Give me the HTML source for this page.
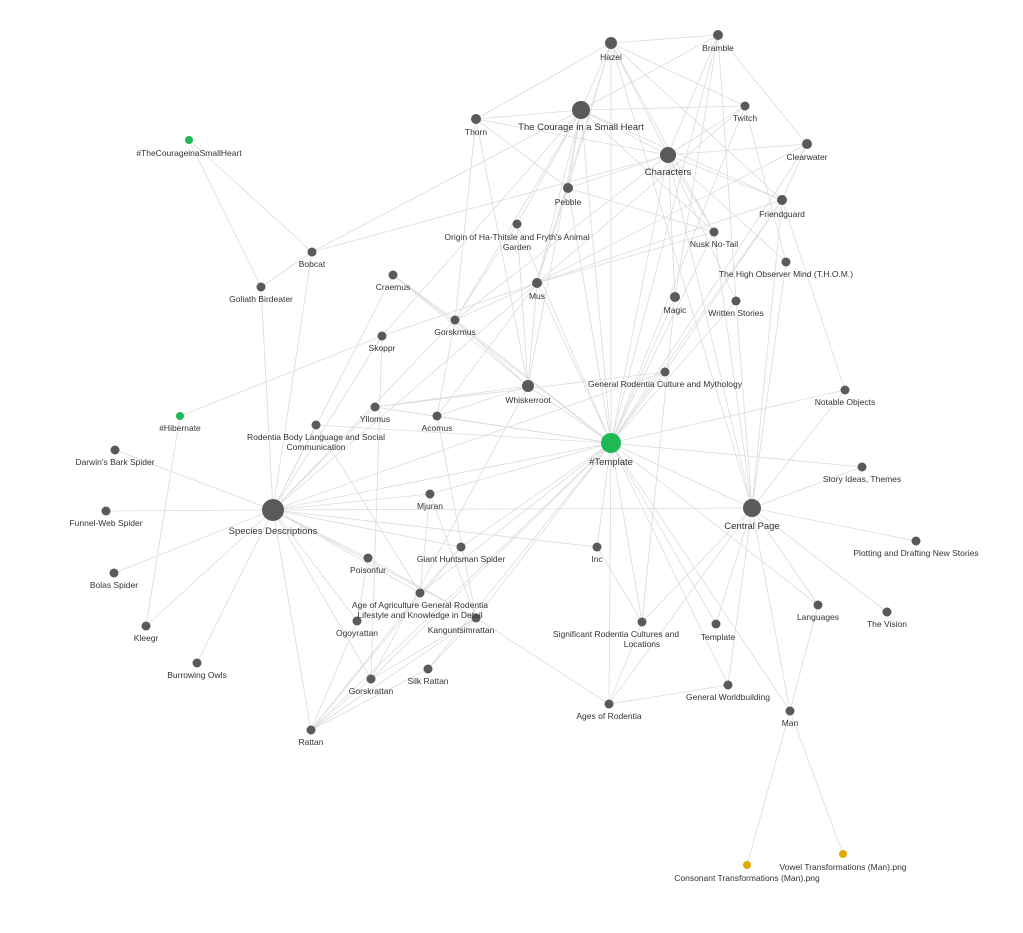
<!DOCTYPE html>
<html><head><meta charset="utf-8"><style>
html,body{margin:0;padding:0;background:#fff;}
svg{display:block}
text{font-family:"Liberation Sans",sans-serif;font-size:8.5px;fill:#333;text-anchor:middle}
</style></head><body>
<svg id="g" width="1023" height="933" viewBox="0 0 1023 933" xmlns="http://www.w3.org/2000/svg">
<g id="edges" stroke="#dcdcdc" stroke-width="0.8"></g>
<g id="nodes" fill="#5a5a5a">
<circle cx="611" cy="43" r="6"/><circle cx="718" cy="35" r="5"/><circle cx="476" cy="119" r="5"/>
<circle cx="581" cy="110" r="9"/><circle cx="745" cy="106" r="4.5"/><circle cx="807" cy="144" r="5"/>
<circle cx="668" cy="155" r="8"/><circle cx="568" cy="188" r="5"/><circle cx="782" cy="200" r="5"/>
<circle cx="517" cy="224" r="4.5"/><circle cx="714" cy="232" r="4.5"/><circle cx="786" cy="262" r="4.5"/>
<circle cx="537" cy="283" r="5"/><circle cx="675" cy="297" r="5"/><circle cx="736" cy="301" r="4.5"/>
<circle cx="455" cy="320" r="4.5"/><circle cx="312" cy="252" r="4.5"/><circle cx="261" cy="287" r="4.5"/>
<circle cx="393" cy="275" r="4.5"/><circle cx="382" cy="336" r="4.5"/>
<circle cx="528" cy="386" r="6"/><circle cx="665" cy="372" r="4.5"/><circle cx="845" cy="390" r="4.5"/>
<circle cx="375" cy="407" r="4.5"/><circle cx="437" cy="416" r="4.5"/><circle cx="316" cy="425" r="4.5"/>
<circle cx="862" cy="467" r="4.5"/><circle cx="115" cy="450" r="4.5"/><circle cx="106" cy="511" r="4.5"/>
<circle cx="273" cy="510" r="11"/><circle cx="430" cy="494" r="4.5"/><circle cx="752" cy="508" r="9"/>
<circle cx="916" cy="541" r="4.5"/><circle cx="597" cy="547" r="4.5"/><circle cx="461" cy="547" r="4.5"/>
<circle cx="368" cy="558" r="4.5"/><circle cx="420" cy="593" r="4.5"/><circle cx="114" cy="573" r="4.5"/>
<circle cx="818" cy="605" r="4.5"/><circle cx="887" cy="612" r="4.5"/><circle cx="357" cy="621" r="4.5"/>
<circle cx="476" cy="618" r="4.5"/><circle cx="146" cy="626" r="4.5"/><circle cx="642" cy="622" r="4.5"/>
<circle cx="716" cy="624" r="4.5"/><circle cx="197" cy="663" r="4.5"/><circle cx="371" cy="679" r="4.5"/>
<circle cx="428" cy="669" r="4.5"/><circle cx="728" cy="685" r="4.5"/><circle cx="790" cy="711" r="4.5"/>
<circle cx="609" cy="704" r="4.5"/><circle cx="311" cy="730" r="4.5"/>
<circle cx="189" cy="140" r="4" fill="#1db954"/><circle cx="180" cy="416" r="4" fill="#1db954"/>
<circle cx="611" cy="443" r="10" fill="#1db954"/>
<circle cx="747" cy="865" r="4" fill="#e0ac00"/><circle cx="843" cy="854" r="4" fill="#e0ac00"/>
</g>
<g>
<text x="611" y="60">Hazel</text><text x="718" y="51">Bramble</text><text x="476" y="135">Thorn</text>
<text x="581" y="130" style="font-size:9.5px">The Courage in a Small Heart</text>
<text x="745" y="121">Twitch</text><text x="807" y="160">Clearwater</text>
<text x="668" y="175" style="font-size:9.5px">Characters</text><text x="568" y="205">Pebble</text>
<text x="782" y="217">Friendguard</text>
<text x="517" y="240">Origin of Ha-Thitsle and Fryth's Animal</text><text x="517" y="250">Garden</text>
<text x="714" y="247">Nusk No-Tail</text><text x="786" y="277">The High Observer Mind (T.H.O.M.)</text>
<text x="537" y="299">Mus</text><text x="675" y="313">Magic</text><text x="736" y="316">Written Stories</text>
<text x="455" y="335">Gorskrmus</text><text x="312" y="267">Bobcat</text><text x="261" y="302">Goliath Birdeater</text>
<text x="393" y="290">Craemus</text><text x="382" y="351">Skoppr</text>
<text x="189" y="156">#TheCourageinaSmallHeart</text><text x="180" y="431">#Hibernate</text>
<text x="528" y="403">Whiskerroot</text><text x="665" y="387">General Rodentia Culture and Mythology</text>
<text x="845" y="405">Notable Objects</text><text x="375" y="422">Yllomus</text><text x="437" y="431">Acomus</text>
<text x="316" y="440">Rodentia Body Language and Social</text><text x="316" y="450">Communication</text>
<text x="611" y="465" style="font-size:9.5px">#Template</text>
<text x="862" y="482">Story Ideas, Themes</text><text x="115" y="465">Darwin's Bark Spider</text>
<text x="106" y="526">Funnel-Web Spider</text>
<text x="273" y="534" style="font-size:9.5px">Species Descriptions</text>
<text x="430" y="509">Mjuran</text>
<text x="752" y="529" style="font-size:9.5px">Central Page</text>
<text x="916" y="556">Plotting and Drafting New Stories</text><text x="597" y="562">Inc</text>
<text x="461" y="562">Giant Huntsman Spider</text><text x="368" y="573">Poisonfur</text>
<text x="420" y="608">Age of Agriculture General Rodentia</text><text x="420" y="618">Lifestyle and Knowledge in Detail</text>
<text x="114" y="588">Bolas Spider</text><text x="818" y="620">Languages</text><text x="887" y="627">The Vision</text>
<text x="357" y="636">Ogoyrattan</text><text x="461" y="633">Kanguntsimrattan</text><text x="146" y="641">Kleegr</text>
<text x="616" y="637">Significant Rodentia Cultures and</text><text x="642" y="647">Locations</text>
<text x="718" y="640">Template</text><text x="197" y="678">Burrowing Owls</text>
<text x="371" y="694">Gorskrattan</text><text x="428" y="684">Silk Rattan</text>
<text x="728" y="700">General Worldbuilding</text><text x="790" y="726">Man</text>
<text x="609" y="719">Ages of Rodentia</text><text x="311" y="745">Rattan</text>
<text x="747" y="881">Consonant Transformations (Man).png</text>
<text x="843" y="870">Vowel Transformations (Man).png</text>
</g>
</svg>
<script>
var P={Ha:[611,43],Br:[718,35],Th:[476,119],Co:[581,110],Tw:[745,106],Cl:[807,144],Ch:[668,155],Pe:[568,188],Fr:[782,200],Or:[517,224],Nu:[714,232],TH:[786,262],Mu:[537,283],Ma:[675,297],Wr:[736,301],Gm:[455,320],Bo:[312,252],Go:[261,287],Cr:[393,275],Sk:[382,336],TC:[189,140],Hi:[180,416],Wh:[528,386],GR:[665,372],No:[845,390],Yl:[375,407],Ac:[437,416],RB:[316,425],T:[611,443],St:[862,467],Da:[115,450],Fu:[106,511],S:[273,510],Mj:[430,494],C:[752,508],Pl:[916,541],In:[597,547],Gi:[461,547],Po:[368,558],AA:[420,593],Bl:[114,573],La:[818,605],Vi:[887,612],Og:[357,621],Ka:[476,618],Kl:[146,626],Si:[642,622],Te:[716,624],Bu:[197,663],Gr:[371,679],SR:[428,669],GW:[728,685],Man:[790,711],Ag:[609,704],Ra:[311,730],Cn:[747,865],Vo:[843,854]};
var E="Ha-Br Ha-Th Ha-Co Ha-Ch Ha-Tw Ha-Fr Ha-T Ha-Mu Ha-Pe Ha-Nu Ha-C Br-Co Br-Ch Br-Cl Br-Ma Br-T Br-Wr Th-Co Th-Ch Th-Gm Th-Wh Th-Pe Co-Tw Co-Ch Co-Pe Co-Mu Co-T Co-Or Co-Bo Co-Gm Co-Wh Co-Nu Co-Fr Co-Sk Tw-Ch Tw-T Tw-TH Tw-Mu Cl-Ch Cl-Fr Cl-Mu Cl-T Ch-Fr Ch-Pe Ch-Nu Ch-TH Ch-Wr Ch-C Ch-T Ch-Gm Ch-Bo Ch-Ma Fr-T Fr-C Fr-No Fr-Mu Fr-GR Pe-Nu Pe-T Pe-Mu Or-Wh Or-T Or-Gm Nu-T Nu-Mu Nu-C TH-C Mu-T Mu-Gm Mu-Wh Mu-Sk Mu-Ac Mu-S Ma-T Ma-Si Wr-T Wr-C Gm-Cr Gm-Wh Gm-T Gm-Ac Gm-S Cr-Wh Cr-T Cr-S Sk-Gr Sk-Hi Sk-S Bo-TC Bo-Go Bo-S Go-TC Go-S Wh-T Wh-Yl Wh-Gr Wh-Ac GR-T GR-S GR-Yl No-T No-C St-T St-C T-S T-C T-Ac T-RB T-Yl T-Mj T-In T-Si T-Te T-GW T-Man T-Ag T-Gi T-AA T-Ka T-SR T-Gr T-Ra T-La S-Da S-Fu S-Bl S-Kl S-Bu S-Ra S-Og S-Po S-Gr S-AA S-Ka S-Gi S-Mj S-In S-RB S-C S-Yl Hi-Kl C-Pl C-La C-Vi C-Man C-Si C-Te C-GW C-Ag La-Man Man-Cn Man-Vo Ag-GW Ag-Si Ag-Ka In-Si Mj-Ka Po-Ka Po-Og Og-Ra Gr-Ra SR-Ka SR-Ra Gi-Ra Gi-AA AA-Ra Ka-Ra Gr-Ka RB-AA RB-S Ac-Ka Mj-AA".split(" ");
var g=document.getElementById("edges"),h="";
E.forEach(function(e){var a=e.split("-"),p=P[a[0]],q=P[a[1]];if(p&&q)h+='<line x1="'+p[0]+'" y1="'+p[1]+'" x2="'+q[0]+'" y2="'+q[1]+'"/>';});
g.innerHTML=h;
</script>
</body></html>
